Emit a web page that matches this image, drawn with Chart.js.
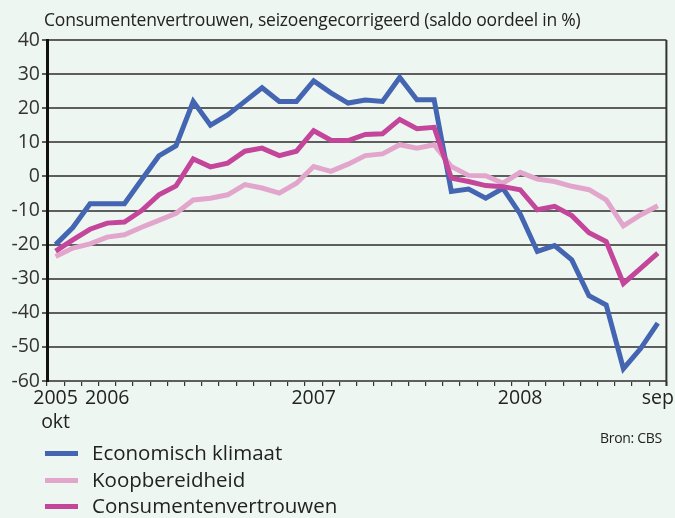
<!DOCTYPE html>
<html lang="nl">
<head>
<meta charset="UTF-8">
<title>Consumentenvertrouwen</title>
<script src="https://cdn.jsdelivr.net/npm/chart.js"></script>
<style>
    body {
        margin: 0;
        background-color: #eef6f1;
        font-family: "Open Sans", sans-serif;
        color: #333;
    }
    .wrap {
        position: relative;
        width: 675px;
        height: 518px;
        overflow: hidden;
    }
    .chart-box {
        position: absolute;
        left: 0;
        top: 0;
        width: 675px;
        height: 440px;
    }
    .title {
        position: absolute;
        left: 44px;
        top: 7px;
        font-size: 17.5px;
        color: #222;
        letter-spacing: -0.2px;
    }
    .source {
        position: absolute;
        left: 600px;
        top: 428px;
        font-size: 14px;
        color: #222;
        letter-spacing: -0.3px;
    }
    .legend {
        position: absolute;
        left: 45px;
        top: 439px;
        font-size: 20.5px;
        color: #222;
    }
    .legend div {
        height: 26.5px;
        line-height: 26px;
        white-space: nowrap;
    }
    .legend span.sw {
        display: inline-block;
        width: 33px;
        height: 5px;
        vertical-align: middle;
        margin-right: 14px;
        position: relative;
        top: -1px;
    }
</style>
</head>
<body>
<div class="wrap">
    <div class="chart-box"><canvas id="cvChart"></canvas></div>
    <div class="title">Consumentenvertrouwen, seizoengecorrigeerd (saldo oordeel in %)</div>
    <div class="source">Bron: CBS</div>
    <div class="legend" id="legend"></div>
</div>

<script>
    // months okt 2005 .. sep 2008
    const months = [
        '2005-10', '2005-11', '2005-12',
        '2006-01', '2006-02', '2006-03', '2006-04', '2006-05', '2006-06',
        '2006-07', '2006-08', '2006-09', '2006-10', '2006-11', '2006-12',
        '2007-01', '2007-02', '2007-03', '2007-04', '2007-05', '2007-06',
        '2007-07', '2007-08', '2007-09', '2007-10', '2007-11', '2007-12',
        '2008-01', '2008-02', '2008-03', '2008-04', '2008-05', '2008-06',
        '2008-07', '2008-08', '2008-09'
    ];
    // tick text per month index (only a few are shown)
    const tickLabels = { 0: ['2005', 'okt'], 3: '2006', 15: '2007', 27: '2008', 35: 'sep' };

    const economischKlimaat = [
        -20, -15, -8, -8, -8, -1, 6, 9, 22, 15, 18, 22,
        26, 22, 22, 28, 24.5, 21.5, 22.4, 22, 29, 22.5,
        22.5, -4.4, -3.7, -6.4, -3.5, -11, -22, -20.3, -24.5, -35,
        -37.7, -56.4, -50.5, -43
    ];
    const koopbereidheid = [
        -23.5, -21, -19.8, -17.8, -17.1, -14.9, -12.9, -10.8, -6.9, -6.4, -5.4, -2.4,
        -3.4, -4.9, -2, 2.9, 1.5, 3.6, 6.1, 6.6, 9.3, 8.3,
        9.3, 2.9, 0.3, 0.2, -2, 1.2, -0.8, -1.5, -2.9, -3.9,
        -6.9, -14.5, -11.3, -8.6
    ];
    const consumentenvertrouwen = [
        -21.9, -18.6, -15.5, -13.7, -13.4, -10, -5.4, -2.8, 5.1, 2.8, 3.9, 7.4,
        8.3, 6.1, 7.4, 13.4, 10.6, 10.5, 12.3, 12.5, 16.7, 14,
        14.4, -0.5, -1.5, -2.7, -3, -3.9, -9.8, -8.8, -11.5, -16.5,
        -19.1, -31.4, -27, -22.5
    ];

    const seriesNames = ['Economisch klimaat', 'Koopbereidheid', 'Consumentenvertrouwen'];
    const seriesColors = ['#4465b1', '#e2a6cd', '#c4469b'];

    // right-hand frame line
    const rightEdge = {
        id: 'rightEdge',
        afterDraw(chart) {
            const a = chart.chartArea;
            const c = chart.ctx;
            c.save();
            c.strokeStyle = '#333';
            c.lineWidth = 2;
            c.beginPath();
            c.moveTo(a.right, a.top);
            c.lineTo(a.right, a.bottom + 5);
            c.stroke();
            c.restore();
        }
    };

    const ctx = document.getElementById('cvChart').getContext('2d');
    const chart = new Chart(ctx, {
        type: 'line',
        data: {
            labels: months,
            datasets: [
                { label: seriesNames[0], data: economischKlimaat, borderColor: seriesColors[0], order: 1 },
                { label: seriesNames[1], data: koopbereidheid, borderColor: seriesColors[1], order: 2 },
                { label: seriesNames[2], data: consumentenvertrouwen, borderColor: seriesColors[2], order: 0 }
            ]
        },
        options: {
            responsive: true,
            maintainAspectRatio: false,
            animation: false,
            datasets: {
                line: { borderWidth: 5, pointRadius: 0, tension: 0, fill: false }
            },
            layout: { padding: { top: 40, right: 8, left: 0, bottom: 0 } },
            plugins: {
                legend: { display: false },
                tooltip: { enabled: false }
            },
            scales: {
                x: {
                    offset: true,
                    afterFit: s => { s.height = 59; },
                    grid: {
                        offset: true,
                        drawOnChartArea: false,
                        tickLength: 5,
                        color: '#333',
                        lineWidth: 1.2
                    },
                    border: { display: false },
                    ticks: {
                        autoSkip: false,
                        maxRotation: 0,
                        padding: 1,
                        color: '#222',
                        font: { family: 'Open Sans', size: 19.5 },
                        callback: (v, i) => tickLabels[i] || ''
                    }
                },
                y: {
                    min: -60,
                    max: 40,
                    afterFit: s => { s.width = 47; },
                    grid: {
                        color: '#5e5e5e',
                        lineWidth: 2,
                        tickLength: 5
                    },
                    border: { color: '#111', width: 3 },
                    ticks: {
                        stepSize: 10,
                        padding: 2,
                        color: '#333',
                        font: { family: 'Open Sans', size: 19.5 }
                    }
                }
            }
        },
        plugins: [rightEdge]
    });

    // legend below the chart, one row per series
    const legendEl = document.getElementById('legend');
    seriesNames.forEach((name, i) => {
        const row = document.createElement('div');
        row.innerHTML = '<span class="sw" style="background:' + seriesColors[i] + '"></span>' + name;
        legendEl.appendChild(row);
    });
</script>
</body>
</html>
